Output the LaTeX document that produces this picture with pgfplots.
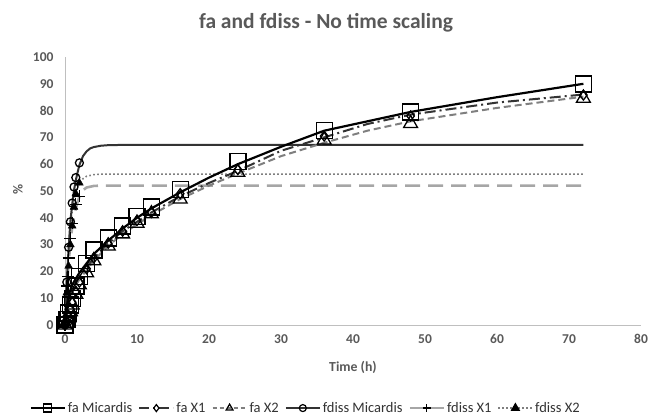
\documentclass[border=0pt]{standalone}
\usepackage{fontspec}
\setmainfont{Carlito}
\usepackage{pgfplots}
\pgfplotsset{compat=1.18}
\definecolor{txt}{HTML}{595959}
\definecolor{axl}{HTML}{BFBFBF}
\definecolor{dk}{HTML}{333333}
\definecolor{md}{HTML}{7F7F7F}
\definecolor{lt}{HTML}{A6A6A6}
\begin{document}
\begin{tikzpicture}
\useasboundingbox (0pt,0pt) rectangle (652pt,416pt);
\node[font=\bfseries\fontsize{21.5}{24}\selectfont, text=txt] at (326pt,393pt) {fa and fdiss - No time scaling};
\begin{axis}[
  at={(65pt,91pt)}, anchor=south west, scale only axis,
  width=576pt, height=268pt,
  xmin=0, xmax=80, ymin=0, ymax=100,
  xtick={0,10,...,80}, ytick={0,10,...,100},
  axis lines*=left, axis line style={axl, line width=1pt},
  tick style={draw=none},
  tick label style={font=\bfseries\fontsize{13.5}{15}\selectfont, text=txt},
  xticklabel style={yshift=-6pt},
  yticklabel style={xshift=-8pt},
  /pgf/number format/assume math mode=true,
  xlabel={Time (h)}, ylabel={\%},
  label style={font=\bfseries\fontsize{13.8}{15}\selectfont, text=txt},
  x label style={at={(axis description cs:0.5,-0.157)}, anchor=center},
  y label style={at={(axis description cs:-0.0816,0.504)}, anchor=center},
  clip=false,
  legend style={at={(axis description cs:0.418,-0.31)}, anchor=center, draw=none,
    font=\fontsize{14.5}{16}\selectfont, text=dk,
    /tikz/every even column/.append style={column sep=4pt}},
  legend columns=-1,
  legend image code/.code={\draw[mark repeat=2,mark phase=2] plot coordinates {(0pt,0pt) (17pt,0pt) (34pt,0pt)};},
]
% ---------- lines ----------
% fdiss X1 (light gray long dash)
\addplot[forget plot, lt, line width=2.6pt, dash pattern=on 15pt off 8pt] coordinates {
(0,0) (0.25,13) (0.5,23) (0.75,30.5) (1,36.5) (1.5,43.5) (2,48) (2.5,50.3) (3,51.3) (4,51.9) (5,52) (72,52)};
% fdiss X2 (dotted)
\addplot[forget plot, md, line width=1.6pt, dash pattern=on 1.6pt off 2.4pt] coordinates {
(0,0) (0.25,16.7) (0.5,28.5) (0.75,36.8) (1,42.5) (1.25,46.6) (1.5,49.4) (2,52.9) (2.5,54.6) (3,55.5) (4,56.1) (5,56.3) (72,56.3)};
% fdiss Micardis
\addplot[forget plot, dk, line width=2pt] coordinates {
(0,0) (0.25,16.9) (0.5,28.6) (0.75,38.8) (1,45) (1.25,50.3) (1.5,54) (1.75,57) (2,59.7) (2.5,63) (3,64.8) (3.5,65.9) (4,66.4) (5,66.9) (6,67.1) (8,67.2) (72,67.2)};
% fa X2 (gray dashed)
\addplot[forget plot, md, line width=2pt, dash pattern=on 7pt off 4pt] coordinates {
(0,0) (0.25,5.5) (0.5,9) (1,12.5) (2,17) (3,20.5) (4,24) (6,29.5) (8,34) (12,41) (16,47) (20,52) (24,56.5) (30,63) (36,68) (42,72.5) (48,76) (60,81) (72,85.2)};
% fa X1 (dash-dot)
\addplot[forget plot, dk, line width=2pt, dash pattern=on 11pt off 4pt on 2pt off 4pt] coordinates {
(0,0) (0.25,6) (0.5,9.5) (1,13.5) (2,18) (3,21.5) (4,25) (6,30.5) (8,35) (12,42) (16,48) (20,53) (24,57.5) (30,65) (36,70) (42,75) (48,78.5) (60,83) (72,86)};
% fa Micardis
\addplot[forget plot, black, line width=2.2pt] coordinates {
(0,0) (0.25,7) (0.5,11) (1,15) (2,19.5) (3,23) (4,26.5) (6,31.5) (8,36) (10,40) (12,43.5) (16,49.5) (20,55) (24,60) (30,66.5) (36,72.5) (42,76) (48,79.5) (60,85) (72,90)};
% ---------- markers ----------
\addplot[forget plot, only marks, mark=square, mark size=8pt, mark options={black, line width=1.4pt, fill=none}] coordinates {
(0,0) (0.25,2) (0.5,4.5) (0.75,7.5) (1,10) (1.5,14.5) (2,18) (3,23) (4,28) (6,32.5) (8,37) (10,40.5) (12,44) (16,50.5) (24,61) (36,72.5) (48,79.5) (72,90)};
\addplot[forget plot, only marks, mark=diamond, mark size=5pt, mark options={black, line width=1.3pt, fill=none}] coordinates {
(0,0) (0.25,1) (0.5,3) (0.75,6) (1,8.5) (1.5,12.5) (2,16) (3,21) (4,25) (6,30.5) (8,35) (10,39) (12,42) (16,49) (24,58) (36,70.5) (48,78) (72,85.8)};
\addplot[forget plot, only marks, mark=triangle, mark size=8pt, mark options={black, line width=1.3pt, fill=none}] coordinates {
(0,0) (0.25,0.7) (0.5,2.5) (0.75,5) (1,7.5) (1.5,11.5) (2,15) (3,19.5) (4,24) (6,29.5) (8,34) (10,38) (12,41.5) (16,47) (24,57) (36,69) (48,75.2) (72,84.6)};
\addplot[forget plot, only marks, mark=o, mark size=4pt, mark options={black, line width=1.3pt, fill=none}] coordinates {
(0,0) (0.25,16) (0.5,29) (0.75,38.5) (1,45.5) (1.25,51.5) (1.5,55) (2,60.5)};
\addplot[forget plot, only marks, mark=+, mark size=6pt, mark options={black, line width=1.3pt}] coordinates {
(0,0) (0.1,5) (0.25,14.6) (0.4,18) (0.5,25) (0.75,32.3) (1,38) (1.5,45) (2,48)};
\addplot[forget plot, only marks, mark=triangle*, mark size=4.5pt, mark options={black, fill=black}] coordinates {
(0,0) (0.25,12) (0.5,22) (0.75,30) (1,37) (1.25,44) (1.5,49) (2,53)};
% ---------- legend ----------
\addlegendimage{black, line width=2pt, mark=square, mark size=4pt, mark options={solid, line width=1.2pt, fill=none}}
\addlegendentry{fa Micardis}
\addlegendimage{dk, line width=2pt, dash pattern=on 10pt off 4pt on 2pt off 4pt, mark=diamond, mark size=3.5pt, mark options={solid, black, line width=1.2pt, fill=none}}
\addlegendentry{fa X1}
\addlegendimage{md, line width=2pt, dash pattern=on 4pt off 3pt, mark=triangle, mark size=4pt, mark options={solid, black, line width=1.2pt, fill=none}}
\addlegendentry{fa X2}
\addlegendimage{dk, line width=2pt, mark=o, mark size=3.5pt, mark options={solid, black, line width=1.2pt, fill=none}}
\addlegendentry{fdiss Micardis}
\addlegendimage{lt, line width=2.5pt, mark=+, mark size=4pt, mark options={solid, black, line width=1.2pt}}
\addlegendentry{fdiss X1}
\addlegendimage{md, line width=1.6pt, dash pattern=on 1.6pt off 2.4pt, mark=triangle*, mark size=4pt, mark options={solid, black, fill=black}}
\addlegendentry{fdiss X2}
\end{axis}
\end{tikzpicture}
\end{document}
